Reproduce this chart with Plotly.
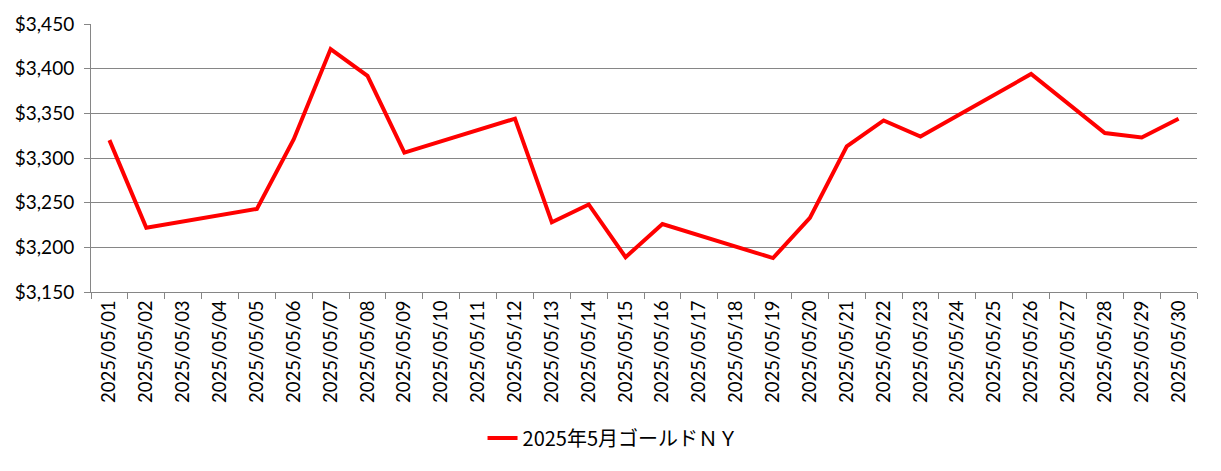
import plotly.graph_objects as go

dates = [f"2025/05/{d:02d}" for d in range(1, 31)]
# NY gold close, USD/oz; None = no trading day (line is bridged)
prices = [
    3320, 3222, None, None, 3243, 3321, 3422, 3392, 3306, None,
    None, 3344, 3228, 3248, 3189, 3226, None, None, 3188, 3233,
    3313, 3342, 3324, None, None, 3394, None, 3328, 3323, 3344,
]
series_name = "2025年5月ゴールドＮＹ"
y_ticks = [3150, 3200, 3250, 3300, 3350, 3400, 3450]
y_labels = [f"${v:,}" for v in y_ticks]

fig = go.Figure()
fig.add_scatter(
    x=dates,
    y=prices,
    mode="lines",
    name=series_name,
    connectgaps=True,
    line=dict(color="#FF0000", width=4),
)
fig.update_layout(
    width=1221,
    height=471,
    margin=dict(l=83, r=32, t=16, b=187),
    paper_bgcolor="white",
    plot_bgcolor="white",
    font=dict(family="Lato, 'Noto Sans CJK JP', sans-serif", size=18, color="#000000"),
    showlegend=True,
    legend=dict(
        orientation="h",
        x=0.472,
        xanchor="center",
        y=-0.545,
        yanchor="middle",
        font=dict(family="'Noto Sans CJK JP', Lato, sans-serif", size=20),
    ),
    xaxis=dict(
        type="category",
        range=[-0.5, 29.5],
        tickson="boundaries",
        ticks="outside",
        ticklen=6,
        tickcolor="#868686",
        tickangle=-90,
        tickfont=dict(size=18.5),
        showgrid=False,
        showline=True,
        linecolor="#868686",
        linewidth=1,
        automargin=False,
    ),
    yaxis=dict(
        range=[3150, 3450],
        tickvals=y_ticks,
        ticktext=y_labels,
        ticks="outside",
        ticklen=6,
        tickcolor="#868686",
        tickfont=dict(size=19),
        ticklabelstandoff=6,
        showgrid=True,
        gridcolor="#868686",
        gridwidth=1,
        showline=True,
        linecolor="#868686",
        zeroline=False,
        automargin=False,
    ),
)
fig.write_html("out.html")
